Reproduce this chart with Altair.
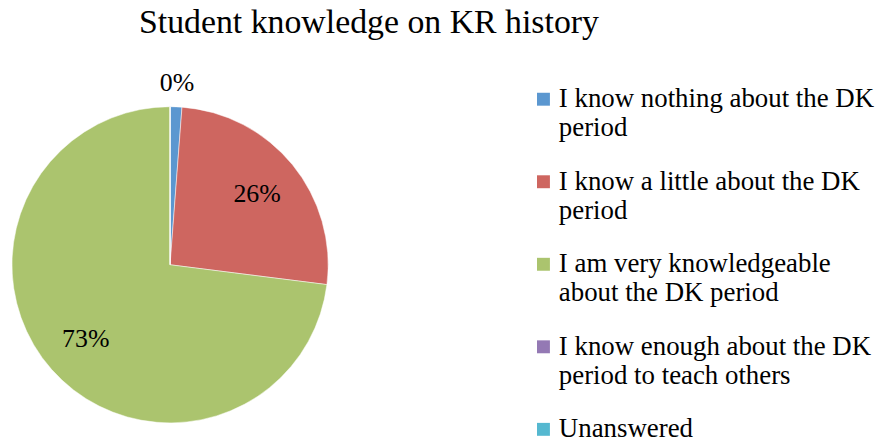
import altair as alt
import pandas as pd

categories = [
    "I know nothing about the DK period",
    "I know a little about the DK period",
    "I am very knowledgeable about the DK period",
    "I know enough about the DK period to teach others",
    "Unanswered",
]
wrapped = [
    ["I know nothing about the DK", "period"],
    ["I know a little about the DK", "period"],
    ["I am very knowledgeable", "about the DK period"],
    ["I know enough about the DK", "period to teach others"],
    ["Unanswered"],
]
values = [1.2, 25.8, 73.0, 0.0, 0.0]
labels = ["0%", "26%", "73%", "", ""]
colors = ["#5B97D0", "#CE6660", "#ABC46E", "#9479B4", "#55B8D0"]

df = pd.DataFrame({
    "category": categories,
    "value": values,
    "label": labels,
    "order": list(range(len(categories))),
})

expr = "".join(
    f"datum.label == '{c}' ? {w!r} : " for c, w in zip(categories, wrapped)
) + "datum.label"

FONT = "Liberation Serif"

base = alt.Chart(df).encode(
    theta=alt.Theta("value:Q", stack=True),
    order=alt.Order("order:Q"),
)

pie = base.mark_arc(outerRadius=159, stroke="white", strokeWidth=0.5).encode(
    color=alt.Color(
        "category:N",
        scale=alt.Scale(domain=categories, range=colors),
        sort=None,
        legend=alt.Legend(
            title=None,
            orient="none",
            legendX=521,
            legendY=-21,
            symbolType="square",
            symbolSize=169,
            symbolStrokeWidth=0,
            labelFont=FONT,
            labelFontSize=27,
            labelColor="#000000",
            labelLimit=400,
            labelExpr=expr,
            rowPadding=26,
            labelOffset=2,
        ),
    )
)

text_in = base.mark_text(font=FONT, fontSize=26, color="#000000", radius=113).transform_calculate(
    t="datum.value >= 5 ? datum.label : ''"
).encode(text="t:N")

text_out = base.mark_text(font=FONT, fontSize=26, color="#000000", radius=183).transform_calculate(
    t="datum.value < 5 ? datum.label : ''"
).encode(text="t:N")

chart = (
    alt.layer(pie, text_in, text_out)
    .properties(
        width=318,
        height=318,
        autosize=alt.AutoSizeParams(type="none"),
        padding={"left": 4, "top": 98, "right": 560, "bottom": 20},
        title=alt.TitleParams(
            "Student knowledge on KR history",
            font=FONT,
            fontSize=34,
            fontWeight="normal",
            color="#000000",
            anchor="middle",
            frame="group",
            dx=200,
            baseline="alphabetic",
            offset=3,
        ),
    )
    .configure_view(stroke=None)
)

chart.save("out.html", embed_options={"renderer": "svg", "actions": False})
